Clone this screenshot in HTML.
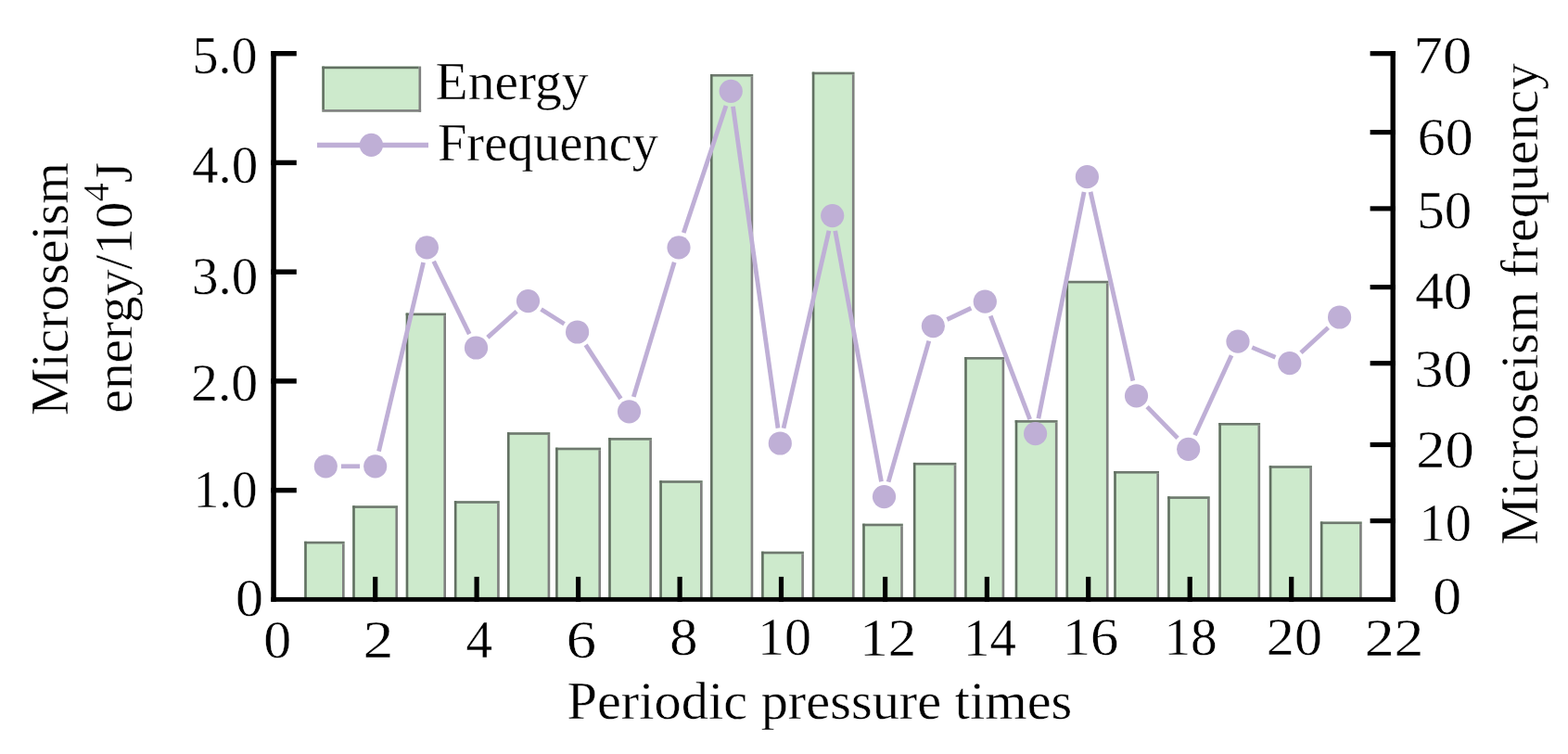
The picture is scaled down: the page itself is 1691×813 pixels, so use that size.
<!DOCTYPE html>
<html><head><meta charset="utf-8"><title>Microseism energy and frequency</title>
<style>html,body{margin:0;padding:0;background:#fff;}body{width:1691px;height:813px;overflow:hidden;}svg{display:block;}</style>
</head><body>
<svg width="1691" height="813" viewBox="0 0 1691 813"><rect width="1691" height="813" fill="#fff"/><rect x="328.20" y="583.80" width="43.40" height="62.55" fill="#cdeacc"/><rect x="328.20" y="583.80" width="43.40" height="2.6" fill="#6f796f"/><rect x="328.20" y="583.80" width="2.6" height="62.55" fill="#627062"/><rect x="369.00" y="586.40" width="2.6" height="59.95" fill="#808080"/><rect x="380.20" y="545.30" width="48.80" height="101.05" fill="#cdeacc"/><rect x="380.20" y="545.30" width="48.80" height="2.6" fill="#6f796f"/><rect x="380.20" y="545.30" width="2.6" height="101.05" fill="#627062"/><rect x="426.40" y="547.90" width="2.6" height="98.45" fill="#808080"/><rect x="437.70" y="337.60" width="43.30" height="308.75" fill="#cdeacc"/><rect x="437.70" y="337.60" width="43.30" height="2.6" fill="#6f796f"/><rect x="437.70" y="337.60" width="2.6" height="308.75" fill="#627062"/><rect x="478.40" y="340.20" width="2.6" height="306.15" fill="#808080"/><rect x="489.90" y="540.20" width="48.80" height="106.15" fill="#cdeacc"/><rect x="489.90" y="540.20" width="48.80" height="2.6" fill="#6f796f"/><rect x="489.90" y="540.20" width="2.6" height="106.15" fill="#627062"/><rect x="536.10" y="542.80" width="2.6" height="103.55" fill="#808080"/><rect x="547.00" y="466.20" width="46.20" height="180.15" fill="#cdeacc"/><rect x="547.00" y="466.20" width="46.20" height="2.6" fill="#6f796f"/><rect x="547.00" y="466.20" width="2.6" height="180.15" fill="#627062"/><rect x="590.60" y="468.80" width="2.6" height="177.55" fill="#808080"/><rect x="599.10" y="482.70" width="48.90" height="163.65" fill="#cdeacc"/><rect x="599.10" y="482.70" width="48.90" height="2.6" fill="#6f796f"/><rect x="599.10" y="482.70" width="2.6" height="163.65" fill="#627062"/><rect x="645.40" y="485.30" width="2.6" height="161.05" fill="#808080"/><rect x="656.20" y="472.10" width="46.70" height="174.25" fill="#cdeacc"/><rect x="656.20" y="472.10" width="46.70" height="2.6" fill="#6f796f"/><rect x="656.20" y="472.10" width="2.6" height="174.25" fill="#627062"/><rect x="700.30" y="474.70" width="2.6" height="171.65" fill="#808080"/><rect x="711.30" y="518.20" width="46.30" height="128.15" fill="#cdeacc"/><rect x="711.30" y="518.20" width="46.30" height="2.6" fill="#6f796f"/><rect x="711.30" y="518.20" width="2.6" height="128.15" fill="#627062"/><rect x="755.00" y="520.80" width="2.6" height="125.55" fill="#808080"/><rect x="766.00" y="80.00" width="46.20" height="566.35" fill="#cdeacc"/><rect x="766.00" y="80.00" width="46.20" height="2.6" fill="#6f796f"/><rect x="766.00" y="80.00" width="2.6" height="566.35" fill="#627062"/><rect x="809.60" y="82.60" width="2.6" height="563.75" fill="#808080"/><rect x="821.10" y="594.70" width="45.80" height="51.65" fill="#cdeacc"/><rect x="821.10" y="594.70" width="45.80" height="2.6" fill="#6f796f"/><rect x="821.10" y="594.70" width="2.6" height="51.65" fill="#627062"/><rect x="864.30" y="597.30" width="2.6" height="49.05" fill="#808080"/><rect x="875.80" y="77.70" width="45.70" height="568.65" fill="#cdeacc"/><rect x="875.80" y="77.70" width="45.70" height="2.6" fill="#6f796f"/><rect x="875.80" y="77.70" width="2.6" height="568.65" fill="#627062"/><rect x="918.90" y="80.30" width="2.6" height="566.05" fill="#808080"/><rect x="930.20" y="564.70" width="43.60" height="81.65" fill="#cdeacc"/><rect x="930.20" y="564.70" width="43.60" height="2.6" fill="#6f796f"/><rect x="930.20" y="564.70" width="2.6" height="81.65" fill="#627062"/><rect x="971.20" y="567.30" width="2.6" height="79.05" fill="#808080"/><rect x="984.90" y="498.90" width="46.40" height="147.45" fill="#cdeacc"/><rect x="984.90" y="498.90" width="46.40" height="2.6" fill="#6f796f"/><rect x="984.90" y="498.90" width="2.6" height="147.45" fill="#627062"/><rect x="1028.70" y="501.50" width="2.6" height="144.85" fill="#808080"/><rect x="1040.20" y="385.00" width="43.00" height="261.35" fill="#cdeacc"/><rect x="1040.20" y="385.00" width="43.00" height="2.6" fill="#6f796f"/><rect x="1040.20" y="385.00" width="2.6" height="261.35" fill="#627062"/><rect x="1080.60" y="387.60" width="2.6" height="258.75" fill="#808080"/><rect x="1094.70" y="453.10" width="45.80" height="193.25" fill="#cdeacc"/><rect x="1094.70" y="453.10" width="45.80" height="2.6" fill="#6f796f"/><rect x="1094.70" y="453.10" width="2.6" height="193.25" fill="#627062"/><rect x="1137.90" y="455.70" width="2.6" height="190.65" fill="#808080"/><rect x="1149.50" y="302.80" width="46.00" height="343.55" fill="#cdeacc"/><rect x="1149.50" y="302.80" width="46.00" height="2.6" fill="#6f796f"/><rect x="1149.50" y="302.80" width="2.6" height="343.55" fill="#627062"/><rect x="1192.90" y="305.40" width="2.6" height="340.95" fill="#808080"/><rect x="1201.20" y="508.00" width="48.80" height="138.35" fill="#cdeacc"/><rect x="1201.20" y="508.00" width="48.80" height="2.6" fill="#6f796f"/><rect x="1201.20" y="508.00" width="2.6" height="138.35" fill="#627062"/><rect x="1247.40" y="510.60" width="2.6" height="135.75" fill="#808080"/><rect x="1259.20" y="535.30" width="45.50" height="111.05" fill="#cdeacc"/><rect x="1259.20" y="535.30" width="45.50" height="2.6" fill="#6f796f"/><rect x="1259.20" y="535.30" width="2.6" height="111.05" fill="#627062"/><rect x="1302.10" y="537.90" width="2.6" height="108.45" fill="#808080"/><rect x="1314.30" y="456.00" width="44.80" height="190.35" fill="#cdeacc"/><rect x="1314.30" y="456.00" width="44.80" height="2.6" fill="#6f796f"/><rect x="1314.30" y="456.00" width="2.6" height="190.35" fill="#627062"/><rect x="1356.50" y="458.60" width="2.6" height="187.75" fill="#808080"/><rect x="1368.80" y="502.20" width="46.10" height="144.15" fill="#cdeacc"/><rect x="1368.80" y="502.20" width="46.10" height="2.6" fill="#6f796f"/><rect x="1368.80" y="502.20" width="2.6" height="144.15" fill="#627062"/><rect x="1412.30" y="504.80" width="2.6" height="141.55" fill="#808080"/><rect x="1423.90" y="562.50" width="44.80" height="83.85" fill="#cdeacc"/><rect x="1423.90" y="562.50" width="44.80" height="2.6" fill="#6f796f"/><rect x="1423.90" y="562.50" width="2.6" height="83.85" fill="#627062"/><rect x="1466.10" y="565.10" width="2.6" height="81.25" fill="#808080"/><g stroke="#bfafd6" stroke-width="4.8" stroke-linecap="butt"><line x1="367.90" y1="502.80" x2="388.10" y2="502.80"/><line x1="408.51" y1="486.64" x2="456.59" y2="282.96"/><line x1="467.71" y1="281.70" x2="506.19" y2="360.10"/><line x1="525.84" y1="363.90" x2="557.16" y2="335.70"/><line x1="583.55" y1="333.44" x2="608.55" y2="349.16"/><line x1="631.66" y1="371.91" x2="669.44" y2="429.89"/><line x1="683.30" y1="427.91" x2="727.20" y2="282.69"/><line x1="737.25" y1="251.05" x2="782.95" y2="114.05"/><line x1="790.50" y1="114.74" x2="839.00" y2="461.56"/><line x1="845.02" y1="461.82" x2="893.98" y2="248.78"/><line x1="900.71" y1="248.93" x2="950.49" y2="519.27"/><line x1="958.09" y1="519.65" x2="1001.81" y2="367.55"/><line x1="1021.41" y1="344.51" x2="1047.29" y2="332.29"/><line x1="1068.21" y1="340.71" x2="1110.69" y2="452.09"/><line x1="1119.88" y1="451.33" x2="1169.12" y2="206.97"/><line x1="1176.04" y1="206.90" x2="1221.86" y2="410.60"/><line x1="1237.09" y1="438.68" x2="1270.01" y2="472.42"/><line x1="1288.54" y1="469.22" x2="1328.06" y2="383.28"/><line x1="1350.31" y1="374.62" x2="1375.49" y2="385.18"/><line x1="1403.00" y1="380.35" x2="1432.40" y2="353.25"/></g><g fill="#bfafd6"><circle cx="351.3" cy="502.8" r="12.6"/><circle cx="404.7" cy="502.8" r="12.6"/><circle cx="460.4" cy="266.8" r="12.6"/><circle cx="513.5" cy="375.0" r="12.6"/><circle cx="569.5" cy="324.6" r="12.6"/><circle cx="622.6" cy="358.0" r="12.6"/><circle cx="678.5" cy="443.8" r="12.6"/><circle cx="732.0" cy="266.8" r="12.6"/><circle cx="788.2" cy="98.3" r="12.6"/><circle cx="841.3" cy="478.0" r="12.6"/><circle cx="897.7" cy="232.6" r="12.6"/><circle cx="953.5" cy="535.6" r="12.6"/><circle cx="1006.4" cy="351.6" r="12.6"/><circle cx="1062.3" cy="325.2" r="12.6"/><circle cx="1116.6" cy="467.6" r="12.6"/><circle cx="1172.4" cy="190.7" r="12.6"/><circle cx="1225.5" cy="426.8" r="12.6"/><circle cx="1281.6" cy="484.3" r="12.6"/><circle cx="1335.0" cy="368.2" r="12.6"/><circle cx="1390.8" cy="391.6" r="12.6"/><circle cx="1444.6" cy="342.0" r="12.6"/></g><g fill="#000"><rect x="292.30" y="55.00" width="5.50" height="593.80"/><rect x="1499.50" y="55.00" width="5.40" height="593.80"/><rect x="292.30" y="643.90" width="1212.60" height="4.90"/><rect x="292.30" y="525.92" width="27.50" height="5.40"/><rect x="292.30" y="408.19" width="27.50" height="5.40"/><rect x="292.30" y="290.46" width="27.50" height="5.40"/><rect x="292.30" y="172.73" width="27.50" height="5.40"/><rect x="292.30" y="55.00" width="27.50" height="5.40"/><rect x="1477.60" y="55.10" width="27.30" height="5.20"/><rect x="1477.60" y="140.00" width="27.30" height="5.20"/><rect x="1477.60" y="222.30" width="27.30" height="5.20"/><rect x="1477.60" y="307.00" width="27.30" height="5.20"/><rect x="1477.60" y="389.10" width="27.30" height="5.20"/><rect x="1477.60" y="476.90" width="27.30" height="5.20"/><rect x="1477.60" y="559.00" width="27.30" height="5.20"/><rect x="402.10" y="621.90" width="5.20" height="26.90"/><rect x="511.50" y="621.90" width="5.20" height="26.90"/><rect x="621.00" y="621.90" width="5.20" height="26.90"/><rect x="730.50" y="621.90" width="5.20" height="26.90"/><rect x="839.90" y="621.90" width="5.20" height="26.90"/><rect x="952.00" y="621.90" width="5.20" height="26.90"/><rect x="1061.80" y="621.90" width="5.20" height="26.90"/><rect x="1171.10" y="621.90" width="5.20" height="26.90"/><rect x="1280.60" y="621.90" width="5.20" height="26.90"/><rect x="1390.10" y="621.90" width="5.20" height="26.90"/></g><g font-family="Liberation Serif, Times New Roman, serif" fill="#000" stroke="#fff" stroke-width="0.4"><text x="207.55" y="79.00" font-size="57" textLength="69.98" lengthAdjust="spacingAndGlyphs">5.0</text><text x="207.00" y="196.60" font-size="57" textLength="71.25" lengthAdjust="spacingAndGlyphs">4.0</text><text x="207.00" y="317.00" font-size="57" textLength="71.25" lengthAdjust="spacingAndGlyphs">3.0</text><text x="205.97" y="432.00" font-size="57" textLength="72.31" lengthAdjust="spacingAndGlyphs">2.0</text><text x="208.64" y="547.20" font-size="57" textLength="68.86" lengthAdjust="spacingAndGlyphs">1.0</text><text x="253.90" y="664.40" font-size="57" textLength="29.94" lengthAdjust="spacingAndGlyphs">0</text><text x="1524.63" y="79.40" font-size="57" textLength="62.60" lengthAdjust="spacingAndGlyphs">70</text><text x="1528.86" y="166.80" font-size="57" textLength="59.86" lengthAdjust="spacingAndGlyphs">60</text><text x="1528.39" y="245.70" font-size="57" textLength="58.98" lengthAdjust="spacingAndGlyphs">50</text><text x="1525.94" y="333.20" font-size="57" textLength="61.86" lengthAdjust="spacingAndGlyphs">40</text><text x="1525.23" y="416.50" font-size="57" textLength="62.49" lengthAdjust="spacingAndGlyphs">30</text><text x="1527.23" y="503.90" font-size="57" textLength="62.50" lengthAdjust="spacingAndGlyphs">20</text><text x="1530.55" y="582.60" font-size="57" textLength="56.33" lengthAdjust="spacingAndGlyphs">10</text><text x="1545.27" y="662.40" font-size="57" textLength="30.90" lengthAdjust="spacingAndGlyphs">0</text><text x="284.37" y="709.00" font-size="57" textLength="29.94" lengthAdjust="spacingAndGlyphs">0</text><text x="391.56" y="709.00" font-size="57" textLength="32.96" lengthAdjust="spacingAndGlyphs">2</text><text x="502.49" y="709.00" font-size="57" textLength="28.52" lengthAdjust="spacingAndGlyphs">4</text><text x="610.66" y="709.00" font-size="57" textLength="32.31" lengthAdjust="spacingAndGlyphs">6</text><text x="722.39" y="706.00" font-size="57" textLength="30.19" lengthAdjust="spacingAndGlyphs">8</text><text x="816.90" y="706.00" font-size="57" textLength="58.14" lengthAdjust="spacingAndGlyphs">10</text><text x="927.17" y="707.00" font-size="57" textLength="60.96" lengthAdjust="spacingAndGlyphs">12</text><text x="1039.00" y="706.80" font-size="57" textLength="56.81" lengthAdjust="spacingAndGlyphs">14</text><text x="1145.72" y="705.80" font-size="57" textLength="60.58" lengthAdjust="spacingAndGlyphs">16</text><text x="1255.48" y="705.80" font-size="57" textLength="57.24" lengthAdjust="spacingAndGlyphs">18</text><text x="1365.88" y="705.80" font-size="57" textLength="60.02" lengthAdjust="spacingAndGlyphs">20</text><text x="1471.73" y="706.80" font-size="57" textLength="63.81" lengthAdjust="spacingAndGlyphs">22</text><text x="611.49" y="774.50" font-size="58" textLength="544.83" lengthAdjust="spacingAndGlyphs">Periodic pressure times</text><text x="469.52" y="106.90" font-size="58" textLength="165.03" lengthAdjust="spacingAndGlyphs">Energy</text><text x="472.05" y="173.10" font-size="58" textLength="237.76" lengthAdjust="spacingAndGlyphs">Frequency</text><text transform="translate(1657.80,587.50) rotate(-90)" font-size="58" textLength="519.42" lengthAdjust="spacingAndGlyphs">Microseism frequency</text><text transform="translate(73.20,448.00) rotate(-90)" font-size="58" textLength="272.86" lengthAdjust="spacingAndGlyphs">Microseism</text><text transform="translate(142.10,445.47) rotate(-90)" font-size="58" textLength="270.51" lengthAdjust="spacingAndGlyphs">energy/10<tspan dy="-24.7" font-size="41">4</tspan><tspan dy="24.7">J</tspan></text></g><rect x="347.3" y="71.6" width="106.80" height="49.10" fill="#cdeacc"/><rect x="451.50" y="71.6" width="2.6" height="49.10" fill="#808080"/><rect x="347.3" y="118.10" width="106.80" height="2.6" fill="#808080"/><rect x="347.3" y="71.6" width="104.20" height="2.6" fill="#627062"/><rect x="347.3" y="71.6" width="2.6" height="46.50" fill="#627062"/><line x1="342" y1="156.5" x2="462" y2="156.5" stroke="#bfafd6" stroke-width="5.3999999999999995"/><circle cx="400.4" cy="156.4" r="12.6" fill="#bfafd6"/></svg>
</body></html>
